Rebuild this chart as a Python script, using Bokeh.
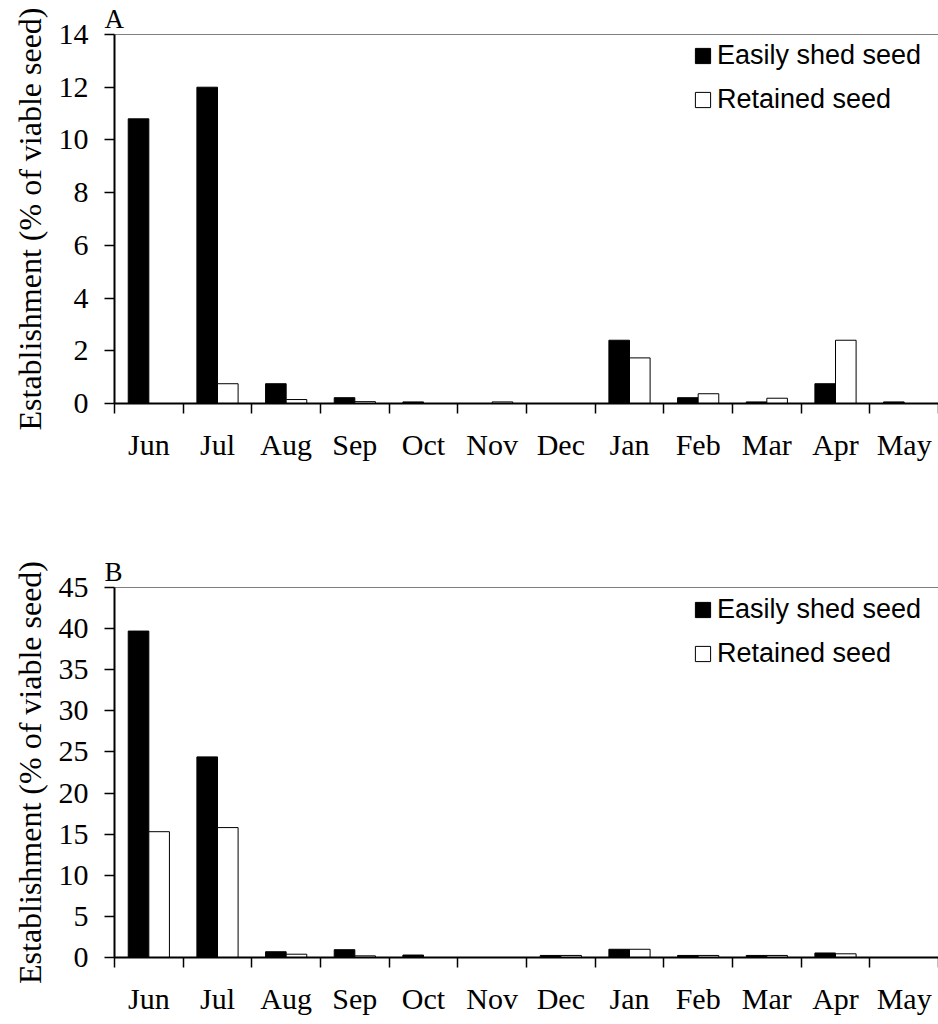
import numpy as np
from bokeh.plotting import figure
from bokeh.layouts import column
from bokeh.models import (Range1d, FixedTicker, LinearAxis, Span, Legend, LegendItem,
                          ColumnDataSource, CustomJSTickFormatter, Title)
from bokeh.embed import file_html
from bokeh.resources import INLINE

# Monthly establishment (% of viable seed)
months = ["Jun", "Jul", "Aug", "Sep", "Oct", "Nov", "Dec", "Jan", "Feb", "Mar", "Apr", "May"]

a_shed = [10.8, 12.0, 0.75, 0.22, 0.06, 0.0, 0.0, 2.4, 0.22, 0.06, 0.75, 0.06]
a_retained = [0.0, 0.75, 0.15, 0.07, 0.0, 0.06, 0.0, 1.73, 0.37, 0.2, 2.4, 0.0]

b_shed = [39.7, 24.4, 0.7, 0.95, 0.3, 0.0, 0.25, 1.0, 0.25, 0.25, 0.55, 0.0]
b_retained = [15.3, 15.8, 0.4, 0.2, 0.0, 0.0, 0.25, 1.0, 0.25, 0.25, 0.45, 0.0]

a_ticks = [0, 2, 4, 6, 8, 10, 12, 14]
b_ticks = [0, 5, 10, 15, 20, 25, 30, 35, 40, 45]

series_names = ["Easily shed seed", "Retained seed"]

SERIF = "Liberation Serif"
SANS = "Liberation Sans"
BAR_W = 0.3


def panel(tag, shed, retained, yticks, border_top, border_bottom):
    n = len(months)
    centers = np.arange(n) + 0.5
    p = figure(width=938, height=512, x_range=Range1d(0, n),
               y_range=Range1d(0, yticks[-1]),
               x_axis_type=None, y_axis_type=None,
               output_backend="svg", toolbar_location=None,
               min_border_left=114, min_border_right=0,
               min_border_top=border_top, min_border_bottom=border_bottom)
    p.outline_line_color = None
    p.xgrid.visible = False
    p.ygrid.visible = False
    p.background_fill_color = "white"
    p.border_fill_color = "white"

    src = ColumnDataSource(dict(x_shed=centers - BAR_W / 2, x_ret=centers + BAR_W / 2,
                                shed=shed, ret=retained))
    r1 = p.vbar(x="x_shed", top="shed", bottom=0, width=BAR_W, source=src,
                fill_color="black", line_color="black", line_width=1)
    r2 = p.vbar(x="x_ret", top="ret", bottom=0, width=BAR_W, source=src,
                fill_color="white", line_color="black", line_width=1)

    # month names centred in each slot, ticks on the slot boundaries
    xaxis = LinearAxis(
        ticker=FixedTicker(ticks=list(centers), minor_ticks=list(range(n + 1))),
        formatter=CustomJSTickFormatter(args=dict(names=months),
                                        code="const i = Math.floor(tick); return names[i] ?? '';"),
        major_tick_line_color=None,
        minor_tick_line_color="black", minor_tick_line_width=1.5,
        minor_tick_in=0, minor_tick_out=10,
        axis_line_color="black", axis_line_width=2,
        major_label_text_font=SERIF, major_label_text_font_size="30px",
        major_label_text_color="black", major_label_standoff=14)
    p.add_layout(xaxis, "below")

    yaxis = LinearAxis(
        ticker=FixedTicker(ticks=yticks, minor_ticks=[]),
        major_tick_line_color="black", major_tick_line_width=1.5,
        major_tick_in=0, major_tick_out=10,
        axis_line_color="black", axis_line_width=2,
        major_label_text_font=SERIF, major_label_text_font_size="30px",
        major_label_text_color="black", major_label_standoff=16,
        axis_label="Establishment (% of viable seed)",
        axis_label_text_font=SERIF, axis_label_text_font_size="32px",
        axis_label_text_font_style="normal", axis_label_text_color="black",
        axis_label_standoff=8)
    p.add_layout(yaxis, "left")

    p.add_layout(Span(location=yticks[-1], dimension="width",
                      line_color="black", line_width=1.2))

    p.add_layout(Title(text=tag, text_font=SERIF, text_font_size="27px",
                       text_font_style="normal", text_color="black",
                       align="left", offset=-10, standoff=2), "above")

    # legend anchored by its lower-left corner, in pixels from the frame's lower-left
    legend = Legend(items=[LegendItem(label=series_names[0], renderers=[r1]),
                           LegendItem(label=series_names[1], renderers=[r2])],
                    location=(579, 288), orientation="vertical",
                    padding=0, margin=0, spacing=13,
                    glyph_width=19, glyph_height=19, label_standoff=5,
                    label_text_font=SANS, label_text_font_size="27px",
                    label_text_color="black",
                    border_line_color=None, background_fill_alpha=0)
    p.add_layout(legend)
    return p


pa = panel("A", a_shed, a_retained, a_ticks, 33, 109)
pb = panel("B", b_shed, b_retained, b_ticks, 75, 67)

layout = column(pa, pb, spacing=0)
open("out.html", "w").write(file_html(layout, INLINE))
